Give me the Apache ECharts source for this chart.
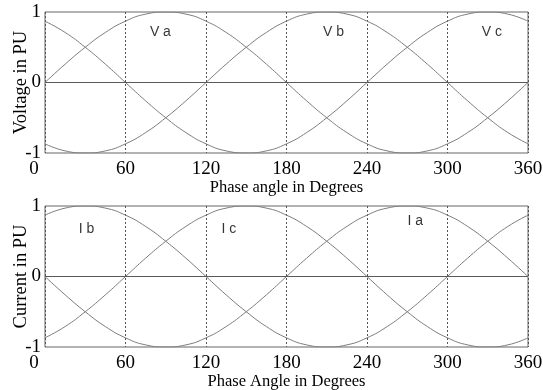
<!DOCTYPE html>
<html>
<head>
<meta charset="utf-8">
<script src="https://cdn.jsdelivr.net/npm/echarts@6/dist/echarts.min.js"></script>
<style>
  html, body { margin: 0; padding: 0; background: #fff; }
  #chart { width: 543px; height: 390px; }
</style>
</head>
<body>
<div id="chart"></div>
<script>
// Phase angle samples (degrees)
const angles = [0, 15, 30, 45, 60, 75, 90, 105, 120, 135, 150, 165, 180,
                195, 210, 225, 240, 255, 270, 285, 300, 315, 330, 345, 360];

// Phase voltages (per unit)
const va = [0, 0.26, 0.5, 0.71, 0.87, 0.97, 1, 0.97, 0.87, 0.71, 0.5, 0.26, 0,
            -0.26, -0.5, -0.71, -0.87, -0.97, -1, -0.97, -0.87, -0.71, -0.5, -0.26, 0];
const vb = [-0.87, -0.97, -1, -0.97, -0.87, -0.71, -0.5, -0.26, 0, 0.26, 0.5, 0.71, 0.87,
            0.97, 1, 0.97, 0.87, 0.71, 0.5, 0.26, 0, -0.26, -0.5, -0.71, -0.87];
const vc = [0.87, 0.71, 0.5, 0.26, 0, -0.26, -0.5, -0.71, -0.87, -0.97, -1, -0.97, -0.87,
            -0.71, -0.5, -0.26, 0, 0.26, 0.5, 0.71, 0.87, 0.97, 1, 0.97, 0.87];

// Phase currents (per unit)
const ib = [0.87, 0.97, 1, 0.97, 0.87, 0.71, 0.5, 0.26, 0, -0.26, -0.5, -0.71, -0.87,
            -0.97, -1, -0.97, -0.87, -0.71, -0.5, -0.26, 0, 0.26, 0.5, 0.71, 0.87];
const ic = [-0.87, -0.71, -0.5, -0.26, 0, 0.26, 0.5, 0.71, 0.87, 0.97, 1, 0.97, 0.87,
            0.71, 0.5, 0.26, 0, -0.26, -0.5, -0.71, -0.87, -0.97, -1, -0.97, -0.87];
const ia = [0, -0.26, -0.5, -0.71, -0.87, -0.97, -1, -0.97, -0.87, -0.71, -0.5, -0.26, 0,
            0.26, 0.5, 0.71, 0.87, 0.97, 1, 0.97, 0.87, 0.71, 0.5, 0.26, 0];

// Curve tags: [name, angle, value]
const voltageTags = [['V a', 86, 0.72], ['V b', 215, 0.72], ['V c', 333, 0.72]];
const currentTags = [['I b', 31, 0.67], ['I c', 137, 0.67], ['I a', 276, 0.79]];

const serif = 'Liberation Serif';
const curveColor = '#7c7c7c';

const pair = vals => angles.map((a, i) => [a, vals[i]]);

function curve(vals, idx) {
  return {
    type: 'line', xAxisIndex: idx, yAxisIndex: idx,
    data: pair(vals), smooth: true, symbol: 'none', silent: true,
    lineStyle: { color: curveColor, width: 1 }
  };
}

function zeroLine(idx) {
  return {
    type: 'line', xAxisIndex: idx, yAxisIndex: idx, data: [], silent: true,
    markLine: {
      symbol: 'none', silent: true, label: { show: false },
      lineStyle: { color: '#5a5a5a', width: 1, type: 'solid' },
      data: [{ yAxis: 0 }]
    }
  };
}

function tags(list, idx) {
  return {
    type: 'scatter', xAxisIndex: idx, yAxisIndex: idx, symbolSize: 0, silent: true,
    data: list.map(t => ({ name: t[0], value: [t[1], t[2]] })),
    label: {
      show: true, position: 'inside', formatter: p => p.name,
      fontFamily: 'Liberation Sans', fontSize: 14, color: '#000'
    }
  };
}

function xAxis(idx, title) {
  return {
    type: 'value', gridIndex: idx, min: 0, max: 360, interval: 60,
    name: title, nameLocation: 'middle', nameGap: 26, nameMoveOverlap: false,
    nameTextStyle: { fontFamily: serif, fontSize: 16.5, color: '#000' },
    axisLine: { show: false },
    axisTick: { show: false },
    axisLabel: {
      fontFamily: serif, fontSize: 19, color: '#000', margin: 7,
      // the origin label sits a little left of the corner
      formatter: v => (v === 0 ? '{o|0}' : String(v)),
      rich: { o: { fontFamily: serif, fontSize: 19, color: '#000', padding: [0, 22, 0, 0] } }
    },
    splitLine: { show: true, lineStyle: { color: '#555', type: [2, 2], width: 1 } }
  };
}

function yAxis(idx, title) {
  return {
    type: 'value', gridIndex: idx, min: -1, max: 1, interval: 1,
    name: title, nameLocation: 'middle', nameGap: 14, nameMoveOverlap: false,
    nameTextStyle: { fontFamily: serif, fontSize: 18.5, color: '#000' },
    axisLine: { show: false },
    axisTick: { show: false },
    axisLabel: { fontFamily: serif, fontSize: 19, color: '#000', margin: 4 },
    splitLine: { show: false }
  };
}

const chart = echarts.init(document.getElementById('chart'));
chart.setOption({
  animation: false,
  backgroundColor: '#fff',
  grid: [
    { left: 45, top: 12, width: 483, height: 141, show: true, borderColor: '#666', borderWidth: 1,
      containLabel: false, outerBoundsMode: 'none' },
    { left: 45, top: 206, width: 483, height: 141, show: true, borderColor: '#666', borderWidth: 1,
      containLabel: false, outerBoundsMode: 'none' }
  ],
  xAxis: [xAxis(0, 'Phase angle in Degrees'), xAxis(1, 'Phase Angle in Degrees')],
  yAxis: [yAxis(0, 'Voltage in PU'), yAxis(1, 'Current in PU')],
  series: [
    zeroLine(0), curve(va, 0), curve(vb, 0), curve(vc, 0), tags(voltageTags, 0),
    zeroLine(1), curve(ib, 1), curve(ic, 1), curve(ia, 1), tags(currentTags, 1)
  ]
});
</script>
</body>
</html>
